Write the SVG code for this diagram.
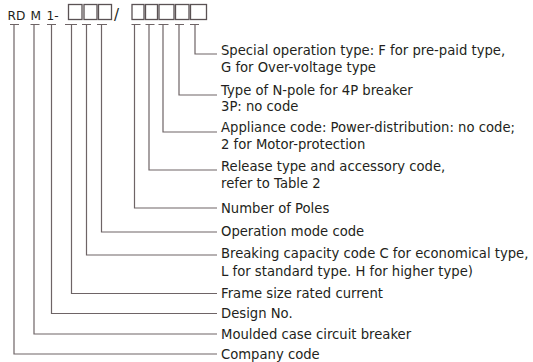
<svg xmlns="http://www.w3.org/2000/svg" width="533" height="362" viewBox="0 0 533 362">
<style>
.t{font-family:"DejaVu Sans",sans-serif;font-size:13.2px;fill:#231f20}
.h{font-family:"DejaVu Sans",sans-serif;font-size:12.2px;fill:#231f20}
.c{fill:none;stroke:#6e6466;stroke-width:1.2}
.b{fill:none;stroke:#5a5254;stroke-width:1.3}
</style>
<rect width="533" height="362" fill="#ffffff"/>
<g id="code">
<text class="h" x="7.5" y="19.8">RD</text>
<text class="h" x="30.5" y="19.8">M</text>
<text class="h" x="46.5" y="19.8">1-</text>
<rect class="b" x="68.5" y="4.5" width="13.5" height="15"/>
<rect class="b" x="84" y="4.5" width="13" height="15"/>
<rect class="b" x="98.5" y="4.5" width="13" height="15"/>
<text class="h" x="114" y="19.5" style="font-size:15px">/</text>
<rect class="b" x="132" y="4.5" width="12" height="15"/>
<rect class="b" x="145.5" y="4.5" width="12" height="15"/>
<rect class="b" x="159" y="4.5" width="15" height="15"/>
<rect class="b" x="175.5" y="4.5" width="13.5" height="15"/>
<rect class="b" x="190.5" y="4.5" width="16" height="15"/>
</g>
<g id="connectors">
<path class="c" d="M10 24.5h9M30.5 24.5h9M47 24.5h9M65 24.5h12M82 24.5h9M97 24.5h10M131.5 24.5h9M145.5 24.5h9M158.5 24.5h10M175 24.5h9M190 24.5h9"/>
<path class="c" d="M14 24.5V354H217"/>
<path class="c" d="M34 24.5V334H217"/>
<path class="c" d="M51.5 24.5V313.5H217"/>
<path class="c" d="M71.5 24.5V293.5H217"/>
<path class="c" d="M86.5 24.5V255H217"/>
<path class="c" d="M101.5 24.5V232H217"/>
<path class="c" d="M134.5 24.5V208H217"/>
<path class="c" d="M149 24.5V170H217"/>
<path class="c" d="M163 24.5V132H217"/>
<path class="c" d="M179 24.5V95H217"/>
<path class="c" d="M195 24.5V54H217"/>
</g>
<g id="n-special"><text class="t" x="221" y="55">Special operation type: F for pre-paid type,</text><text class="t" x="221" y="72">G for Over-voltage type</text></g>
<g id="n-npole"><text class="t" x="221" y="95">Type of N-pole for 4P breaker</text><text class="t" x="221" y="111">3P: no code</text></g>
<g id="n-appliance"><text class="t" x="221" y="132">Appliance code: Power-distribution: no code;</text><text class="t" x="221" y="149">2 for Motor-protection</text></g>
<g id="n-release"><text class="t" x="221" y="171">Release type and accessory code,</text><text class="t" x="221" y="188">refer to Table 2</text></g>
<g id="n-poles"><text class="t" x="221" y="213">Number of Poles</text></g>
<g id="n-operation"><text class="t" x="221" y="236">Operation mode code</text></g>
<g id="n-breaking"><text class="t" x="221" y="258">Breaking capacity code C for economical type,</text><text class="t" x="221" y="276">L for standard type. H for higher type)</text></g>
<g id="n-frame"><text class="t" x="221" y="298">Frame size rated current</text></g>
<g id="n-design"><text class="t" x="221" y="318">Design No.</text></g>
<g id="n-moulded"><text class="t" x="221" y="338.5">Moulded case circuit breaker</text></g>
<g id="n-company"><text class="t" x="221" y="358.5">Company code</text></g>
</svg>
